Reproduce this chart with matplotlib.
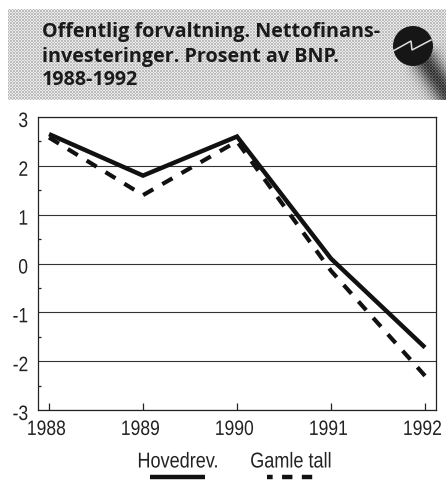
import numpy as np
import matplotlib
matplotlib.use("Agg")
import matplotlib.pyplot as plt
from matplotlib.patches import Circle
from matplotlib.patheffects import AbstractPathEffect
from matplotlib.transforms import Affine2D, ScaledTranslation

years = [1988, 1989, 1990, 1991, 1992]
hovedrev = [2.65, 1.8, 2.6, 0.1, -1.72]
gamle_tall = [2.58, 1.4, 2.5, -0.15, -2.3]
y_ticks = [-3, -2, -1, 0, 1, 2, 3]
y_minor = [-2.5, -1.5, -0.5, 0.5, 1.5, 2.5]
y_labels = ["-3", "-2", "-1", "0", "1", "2", "3"]
title_lines = ["Offentlig forvaltning. Nettofinans-", "investeringer. Prosent av BNP.", "1988-1992"]
W, H = 446, 499


class Narrow(AbstractPathEffect):
    # squeeze the glyphs sideways, the original uses a condensed face
    def __init__(self, sx, anchor):
        super().__init__()
        self.sx, self.anchor = sx, anchor

    def draw_path(self, renderer, gc, tpath, affine, rgbFace=None):
        xs = tpath.vertices[:, 0]
        x0 = xs.max() if self.anchor == "right" else (xs.min() + xs.max()) / 2
        t = Affine2D().translate(-x0, 0).scale(self.sx, 1).translate(x0, 0)
        renderer.draw_path(gc, tpath, t + affine, rgbFace)


plt.rcParams['font.family'] = ['Liberation Sans', 'DejaVu Sans']
fig = plt.figure(figsize=(W/100, H/100), dpi=100)

ax = fig.add_axes([38/W, 1-410/H, 398/W, 293/H])
ax.set_xlim(1988-11/94, 1992+11/94)
ax.set_ylim(-3, 3)
ax.plot(years, hovedrev, color="#111111", lw=3.2, solid_joinstyle="miter", solid_capstyle="butt", zorder=3)
ax.plot(years, gamle_tall, color="#111111", lw=3, dashes=(2.8, 2.5), dash_capstyle="butt", zorder=3)
ax.set_xticks(years)
ax.set_yticks(y_ticks)
ax.set_yticks(y_minor, minor=True)
ax.set_yticklabels(y_labels)
ax.tick_params(axis="x", direction="in", length=5, width=0.9, labelsize=15, pad=5, colors="#222222")
ax.tick_params(axis="y", which="major", length=0, labelsize=15, pad=7, colors="#222222")
ax.tick_params(axis="y", which="minor", direction="in", length=2.5, width=0.9, colors="#222222")
ax.grid(True, axis="y", which="major", color="#333333", lw=0.8)
for s in ax.spines.values():
    s.set_linewidth(0.9)
    s.set_color("#222222")

dpi_tr = fig.dpi_scale_trans
for lab in ax.get_xticklabels():
    lab.set_transform(lab.get_transform() + ScaledTranslation(-2.5/100, -3/100, dpi_tr))
    lab.set_path_effects([Narrow(0.84, "center")])
for lab in ax.get_yticklabels():
    lab.set_transform(lab.get_transform() + ScaledTranslation(0, -2.5/100, dpi_tr))
    lab.set_path_effects([Narrow(0.84, "right")])

# overlay in pixel coordinates for banner and legend
ov = fig.add_axes([0, 0, 1, 1])
ov.patch.set_alpha(0)

# halftone grey banner with the soft shadow falling to the lower right
yy, xx = np.mgrid[9:100, 8:446] + 0.5
along = ((xx-418)*30 + (yy-50)*45) / np.hypot(30, 45)
across = np.abs((xx-418)*45 - (yy-50)*30) / np.hypot(30, 45)
shade = 0.83 - 0.55*np.exp(-(across/13)**2)*np.clip(along/12, 0, 1)
checker = ((np.floor(xx/1.5) + np.floor(yy/1.5)) % 2)*2 - 1
ov.imshow(np.clip(shade + 0.09*checker, 0, 1), cmap="gray", vmin=0, vmax=1, extent=(8, 446, 100, 9),
          interpolation="bilinear", aspect="auto")
ov.set_xlim(0, W)
ov.set_ylim(H, 0)
ov.axis("off")

ov.add_patch(Circle((413, 46), 20, fc="#161616", ec="none"))
ov.plot([393, 411, 412, 431], [51, 41, 50, 40], color="#e0e0e0", lw=1.1, solid_joinstyle="miter")
for y, line in zip([32, 57, 80], title_lines):
    ov.text(42, y, line, family=["Open Sans", "DejaVu Sans"], fontsize=14.2, fontweight="bold",
            color="#1a1a1a", va="center", ha="left")

for x, name in zip([178, 291], ["Hovedrev.", "Gamle tall"]):
    ov.text(x, 462, name, fontsize=15.5, color="#222222", ha="center", va="center",
            path_effects=[Narrow(0.84, "center")])
ov.plot([150, 205], [477, 477], color="#111111", lw=3.2, solid_capstyle="butt")
ov.plot([267, 315], [477, 477], color="#111111", lw=3.2, linestyle=(1.06, (2.33, 2.12)), dash_capstyle="butt")

fig.savefig("out.png", dpi=100)
